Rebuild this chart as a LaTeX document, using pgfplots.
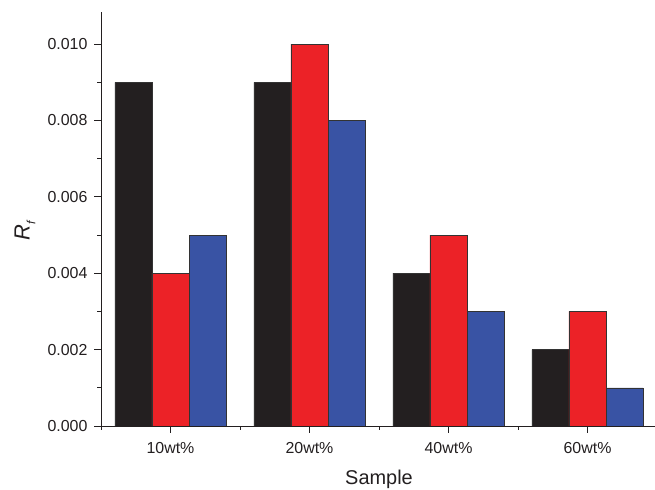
\documentclass[border=0pt]{standalone}
\usepackage{pgfplots}
\pgfplotsset{compat=1.18}
\usepackage{fontspec}
\setmainfont{Liberation Sans}
\definecolor{cblack}{HTML}{231F20}
\definecolor{cred}{HTML}{EC2227}
\definecolor{cblue}{HTML}{3953A4}
\begin{document}
\begin{tikzpicture}[x=1bp,y=1bp]
\useasboundingbox (0,0) rectangle (655,490);
\begin{axis}[
  at={(101bp,64bp)}, anchor=south west,
  scale only axis, width=556bp, height=414bp,
  xmin=-0.5, xmax=3.5, ymin=0, ymax=0.01084,
  axis x line*=bottom, axis y line*=left,
  axis line style={line width=0.9pt, color=cblack},
  ybar=0pt, bar width=0.2667,
  xtick={0,1,2,3}, xticklabels={10wt\%,20wt\%,40wt\%,60wt\%},
  minor xtick={-0.5,0.5,1.5,2.5},
  ytick={0,0.002,0.004,0.006,0.008,0.010},
  minor ytick={0.001,0.003,0.005,0.007,0.009},
  yticklabel style={/pgf/number format/fixed, /pgf/number format/fixed zerofill, /pgf/number format/precision=3, /pgf/number format/assume math mode=true, xshift=-3bp},
  tick align=outside,
  major tick length=7bp, minor tick length=4bp,
  tick style={line width=0.9pt, color=cblack},
  ticklabel style={font=\fontsize{16}{18}\selectfont, text=cblack},
  xticklabel style={yshift=-6bp},
  xlabel={Sample}, ylabel={\textit{R}\raisebox{-0.5ex}{\fontsize{12}{13}\selectfont\textit{f}}},
  xlabel style={font=\fontsize{20}{22}\selectfont, text=cblack, at={(axis description cs:0.5,0)}, anchor=center, yshift=-53bp},
  ylabel style={font=\fontsize{22}{24}\selectfont, text=cblack, at={(axis description cs:0,0.473)}, anchor=center, yshift=76bp},
  scaled y ticks=false,
]
\addplot[fill=cblack, draw=black!80, line width=0.6pt, bar shift=-0.2667] coordinates {(0,0.009) (1,0.009) (2,0.004) (3,0.002)};
\addplot[fill=cred, draw=black!80, line width=0.6pt, bar shift=0] coordinates {(0,0.004) (1,0.010) (2,0.005) (3,0.003)};
\addplot[fill=cblue, draw=black!80, line width=0.6pt, bar shift=0.2667] coordinates {(0,0.005) (1,0.008) (2,0.003) (3,0.001)};
\end{axis}
\end{tikzpicture}
\end{document}
